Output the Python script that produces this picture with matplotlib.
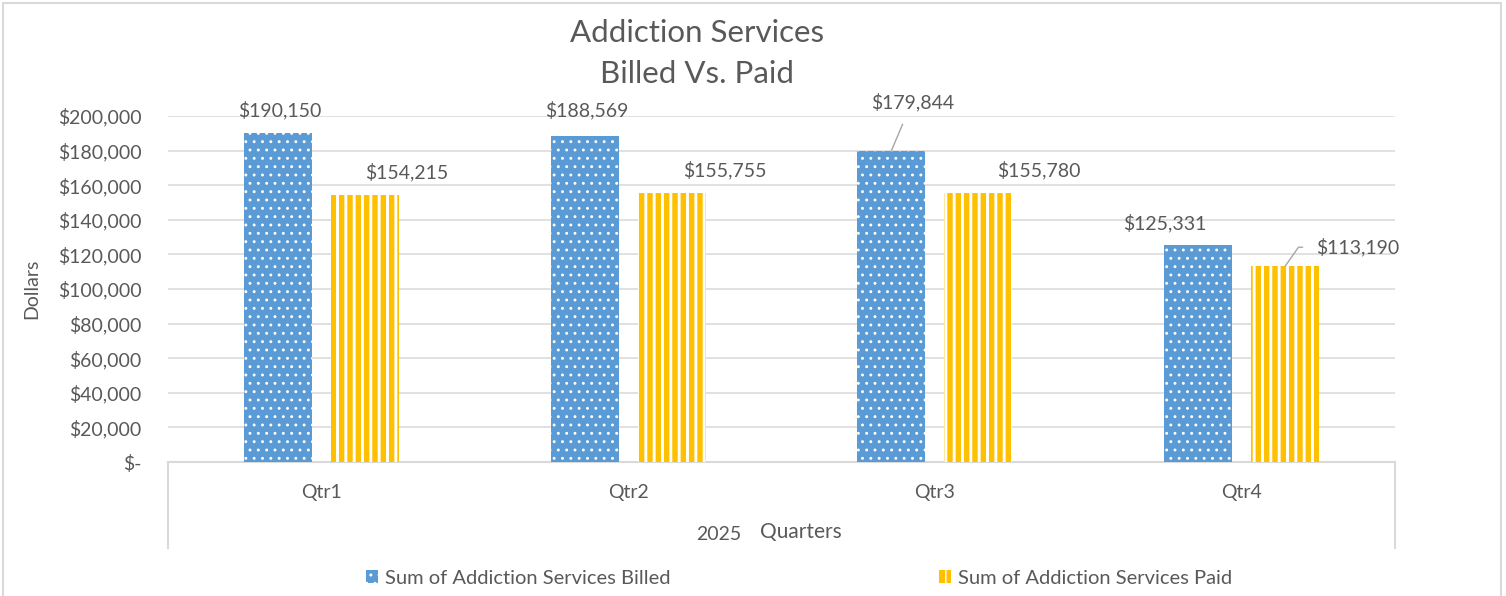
import numpy as np
import matplotlib
matplotlib.use('Agg')
import matplotlib.pyplot as plt
from matplotlib.patches import Rectangle
from matplotlib.ticker import FuncFormatter

# chart data
quarters = ['Qtr1', 'Qtr2', 'Qtr3', 'Qtr4']
billed = [190150, 188569, 179844, 125331]
paid = [154215, 155755, 155780, 113190]
yticks = np.arange(0, 200001, 20000)

# label offsets (pixels, from bar top centre) -- placed by hand like in the original
billed_off = [(2, 23), (2, 26), (21, 49), (-33, 22)]
paid_off = [(42, 23), (53, 22), (60, 22), (73, 19)]

TXT = '#595959'
GRID = '#D9D9D9'
BLUE = '#5B9BD5'
GOLD = '#FFC000'

plt.rcParams['font.family'] = ['Lato', 'DejaVu Sans']

W, H = 1506, 596
fig = plt.figure(figsize=(W / 100, H / 100), dpi=100)
ax = fig.add_axes([168 / W, 1 - 462 / H, (1395 - 168) / W, 346 / H])

x = np.arange(len(quarters))
bw = 0.222
off = 0.142
with plt.rc_context({'hatch.linewidth': 0.9}):
    b1 = ax.bar(x - off, billed, bw, color=BLUE, edgecolor='white', hatch='..', linewidth=0,
                label='Sum of Addiction Services Billed', zorder=3)
with plt.rc_context({'hatch.linewidth': 2.1}):
    b2 = ax.bar(x + off, paid, bw, color=GOLD, edgecolor='white', hatch='||', linewidth=0,
                label='Sum of Addiction Services Paid', zorder=3)
for bars, hl in ((b1, 0.9), (b2, 2.1)):
    for p in bars:
        if hasattr(p, 'set_hatch_linewidth'):
            p.set_hatch_linewidth(hl)

ax.set_xlim(-0.5, len(quarters) - 0.5)
ax.set_ylim(0, 200000)
ax.set_yticks(yticks)
ax.yaxis.set_major_formatter(FuncFormatter(lambda v, p: '$-' if v == 0 else '${:,.0f}'.format(v)))
ax.set_xticks(x)
ax.set_xticklabels(quarters)
ax.tick_params(axis='both', length=0, colors=TXT, labelsize=14)
ax.tick_params(axis='y', pad=19)
ax.tick_params(axis='x', pad=16)
ax.grid(axis='y', color=GRID, linewidth=1.1, zorder=0)
for s in ['left', 'right', 'top']:
    ax.spines[s].set_visible(False)
ax.spines['bottom'].set_color(GRID)
ax.spines['bottom'].set_linewidth(1.5)

# category box under the axis
for xa in (0, 1):
    ax.plot([xa, xa], [0, -86 / 346], transform=ax.transAxes, color=GRID, lw=1.5, clip_on=False)

# data labels
for i in range(len(quarters)):
    for vals, offs, sgn in ((billed, billed_off, -1), (paid, paid_off, 1)):
        dx, dy = offs[i]
        kw = {}
        if vals is billed and i == 2:
            kw['arrowprops'] = dict(arrowstyle='-', color='#A6A6A6', lw=1, relpos=(0.45, 0),
                                    shrinkA=8, shrinkB=0)
        if vals is paid and i == 3:
            kw['arrowprops'] = dict(arrowstyle='-', color='#A6A6A6', lw=1, relpos=(0, 0.5),
                                    shrinkA=8, shrinkB=0,
                                    connectionstyle='angle,angleA=0,angleB=55,rad=0')
        ax.annotate('${:,.0f}'.format(vals[i]), xy=(x[i] + sgn * off, vals[i]),
                    xytext=(dx, dy), textcoords='offset pixels', ha='center', va='center',
                    fontsize=14, color=TXT, annotation_clip=False, **kw)

ax.set_ylabel('Dollars', fontsize=14, color=TXT)
ax.yaxis.set_label_coords((40 - 168) / (1395 - 168), 0.5)

fig.text(697 / W, 1 - 33 / H, 'Addiction Services', ha='center', va='center', fontsize=22.5, color=TXT)
fig.text(697 / W, 1 - 74 / H, 'Billed Vs. Paid', ha='center', va='center', fontsize=22.5, color=TXT)
fig.text(719 / W, 1 - 534 / H, '2025', ha='center', va='center', fontsize=14, color=TXT)
fig.text(801 / W, 1 - 532 / H, 'Quarters', ha='center', va='center', fontsize=15, color=TXT)

fig.legend(handles=[b1, b2], loc='center', bbox_to_anchor=(799 / W, 1 - 578 / H), ncol=2,
           frameon=False, fontsize=14.5, handlelength=0.6, handleheight=0.6, handletextpad=0.35,
           columnspacing=13.3, labelcolor=TXT)

fig.patches.append(Rectangle((3 / W, -0.01), (1501 - 3) / W, 1 - 3 / H + 0.01, transform=fig.transFigure,
                             fill=False, edgecolor=GRID, lw=1.5))

fig.savefig('out.png', dpi=100)
